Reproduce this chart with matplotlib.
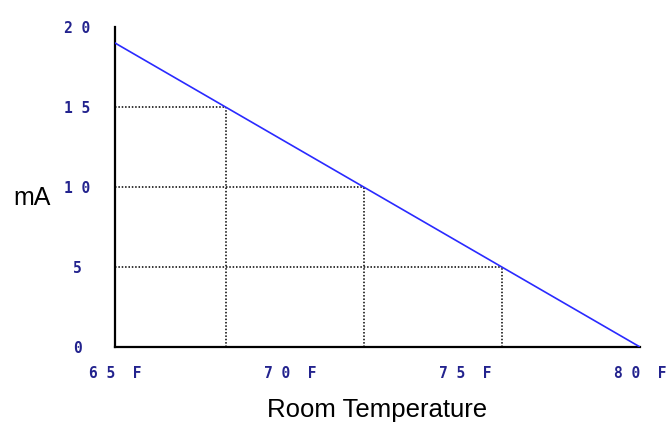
import matplotlib
matplotlib.use("Agg")
import matplotlib.pyplot as plt

# data
temps = [65, 80]
current = [19, 0]
levels = [15, 10, 5]
level_temps = [68.16, 72.1, 76.05]
xticks = [65, 70, 75, 80]
xtick_labels = ["6 5  F", "7 0  F", "7 5  F", "8 0  F"]
yticks = [0, 5, 10, 15, 20]
ytick_labels = ["0", "5", "1 0", "1 5", "2 0"]

fig = plt.figure(figsize=(6.72, 4.28), dpi=100)
ax = fig.add_axes([115/672, 81/428, 525/672, 320/428])
ax.plot(temps, current, color="#2a2aff", lw=1.2, zorder=3)
for lv, t in zip(levels, level_temps):
    ax.plot([65, t], [lv, lv], color="black", lw=1.1, ls=(0, (1.0, 1.2)), zorder=2)
    ax.plot([t, t], [0, lv], color="black", lw=1.1, ls=(0, (1.0, 1.2)), zorder=2)

ax.set_xlim(65, 80)
ax.set_ylim(0, 20)
for s in ["top", "right"]:
    ax.spines[s].set_visible(False)
for s in ["left", "bottom"]:
    ax.spines[s].set_linewidth(1.6)
    ax.spines[s].set_color("black")
ax.set_xticks(xticks)
ax.set_xticklabels(xtick_labels)
ax.set_yticks(yticks)
ax.set_yticklabels(ytick_labels)
for lab in ax.get_xticklabels() + ax.get_yticklabels():
    lab.set_fontfamily("DejaVu Sans Mono")
    lab.set_fontweight("bold")
    lab.set_fontsize(10.5)
    lab.set_color("#23238e")
for lab in ax.get_yticklabels():
    lab.set_horizontalalignment("center")
ax.tick_params(axis="x", length=0, pad=14)
ax.tick_params(axis="y", length=0, pad=27)
ax.set_xlabel("Room Temperature", fontsize=18.5, family="Liberation Sans", labelpad=12)
fig.text(32/672, 1 - 198/428, "mA", fontsize=18, family="Liberation Sans", ha="center", va="center")
fig.savefig("out.png", dpi=100, facecolor="white")
